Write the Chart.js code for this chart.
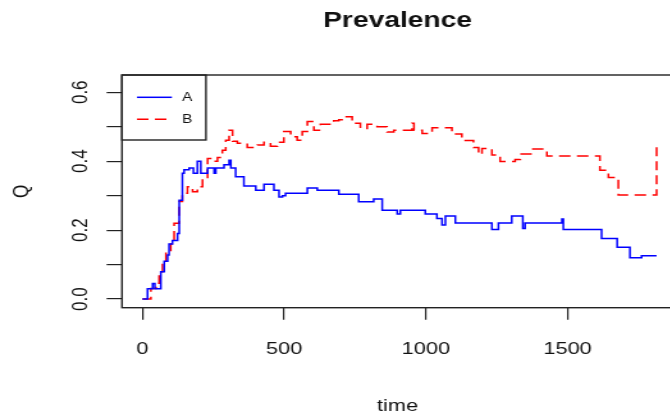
<!DOCTYPE html>
<html>
<head>
<meta charset="utf-8">
<script src="https://cdn.jsdelivr.net/npm/chart.js@4"></script>
<style>
html,body{margin:0;padding:0;background:#fff;overflow:hidden;width:670px;height:417px;}
/* the reference is stretched sideways, so the canvas is drawn narrow and widened */
#wrap{width:530px;height:417px;transform:scaleX(1.28);transform-origin:0 0;}
</style>
</head>
<body>
<div id="wrap"><canvas id="chart" width="530" height="417"></canvas></div>
<script>
const seriesNames = ["A", "B"];

// series A (blue, solid) - step points
const aTime = [0, 18, 36, 44, 65, 77, 89, 94, 106, 124, 130, 141, 147, 165, 180, 194, 206, 230, 253, 259, 288, 306, 312, 329, 358, 400, 429, 464, 482, 494, 505, 582, 617, 693, 763, 816, 846, 899, 910, 998, 1039, 1057, 1069, 1104, 1233, 1256, 1303, 1342, 1350, 1480, 1485, 1620, 1675, 1720, 1761, 1814];
const aQ    = [0, 0.03, 0.045, 0.03, 0.079, 0.11, 0.128, 0.16, 0.17, 0.19, 0.287, 0.365, 0.375, 0.38, 0.365, 0.40, 0.365, 0.38, 0.365, 0.38, 0.39, 0.403, 0.38, 0.355, 0.328, 0.316, 0.333, 0.316, 0.296, 0.30, 0.307, 0.322, 0.316, 0.304, 0.282, 0.29, 0.258, 0.247, 0.258, 0.247, 0.234, 0.215, 0.241, 0.221, 0.202, 0.221, 0.241, 0.205, 0.221, 0.232, 0.202, 0.176, 0.15, 0.12, 0.126, 0.126];

// series B (red, dashed)
const bTime = [0, 30, 48, 59, 71, 83, 100, 112, 130, 141, 159, 177, 194, 212, 230, 247, 265, 282, 294, 306, 318, 335, 370, 406, 429, 452, 476, 499, 523, 546, 564, 582, 605, 628, 675, 693, 711, 740, 769, 793, 828, 863, 887, 951, 958, 987, 1022, 1092, 1127, 1168, 1186, 1198, 1233, 1262, 1315, 1333, 1374, 1427, 1614, 1644, 1679, 1814];
const bQ    = [0, 0.031, 0.046, 0.079, 0.108, 0.133, 0.16, 0.22, 0.283, 0.307, 0.326, 0.311, 0.326, 0.35, 0.408, 0.40, 0.411, 0.432, 0.461, 0.49, 0.458, 0.452, 0.44, 0.447, 0.455, 0.443, 0.455, 0.486, 0.471, 0.461, 0.486, 0.515, 0.49, 0.507, 0.517, 0.52, 0.529, 0.51, 0.495, 0.507, 0.50, 0.485, 0.49, 0.51, 0.49, 0.48, 0.497, 0.479, 0.46, 0.44, 0.42, 0.437, 0.418, 0.399, 0.405, 0.421, 0.435, 0.415, 0.374, 0.353, 0.302, 0.442];

const xTicks  = [0, 500, 1000, 1500];
const xLabels = ["0", "500", "1000", "1500"];
const yTicks  = [0, 0.1, 0.2, 0.3, 0.4, 0.5, 0.6];
const yLabels = ["0.0", "", "0.2", "", "0.4", "", "0.6"];

const FONT = "'Liberation Sans', Arial, sans-serif";
const INK = "#111";

function pts(xs, ys){ return xs.map((x, i) => ({x: x, y: ys[i]})); }

// plot frame + R style legend box
const boxPlugin = {
  id: "box",
  afterDraw(chart){
    const {ctx, chartArea: a} = chart;
    ctx.save();
    ctx.strokeStyle = "#222";
    ctx.lineWidth = 1.4;
    ctx.strokeRect(a.left, a.top, a.right - a.left, a.bottom - a.top);

    const lx = a.left, ly = a.top;
    ctx.strokeRect(lx, ly, 65.6, 65);
    chart.data.datasets.forEach((ds, i) => {
      const y = ly + 22.3 + i * 22;
      ctx.strokeStyle = ds.borderColor;
      ctx.lineWidth = ds.borderWidth;
      ctx.setLineDash(ds.borderDash || []);
      ctx.beginPath();
      ctx.moveTo(lx + 11.7, y);
      ctx.lineTo(lx + 39, y);
      ctx.stroke();
      ctx.setLineDash([]);
      ctx.fillStyle = INK;
      ctx.font = "12px " + FONT;
      ctx.textAlign = "center";
      ctx.textBaseline = "middle";
      ctx.fillText(ds.label, lx + 51, y);
    });
    ctx.restore();
  }
};

new Chart(document.getElementById("chart"), {
  type: "line",
  data: {
    datasets: [
      {label: seriesNames[0], data: pts(aTime, aQ), borderColor: "#0000ff", borderWidth: 1.5, stepped: true, pointRadius: 0, fill: false},
      {label: seriesNames[1], data: pts(bTime, bQ), borderColor: "#ff0000", borderWidth: 1.5, borderDash: [9, 5], stepped: true, pointRadius: 0, fill: false}
    ]
  },
  options: {
    responsive: false,
    animation: false,
    devicePixelRatio: 1,
    layout: {padding: {left: 0, right: 4.2, top: 0, bottom: 0}},
    plugins: {
      legend: {display: false},
      tooltip: {enabled: false},
      title: {
        display: true, text: "Prevalence", fullSize: false, color: INK,
        font: {family: FONT, size: 22, weight: "bold"},
        padding: {top: 7.8, bottom: 40.8}
      }
    },
    scales: {
      x: {
        type: "linear", min: -72, max: 1872, bounds: "data",
        afterBuildTicks: s => { s.ticks = xTicks.map(v => ({value: v})); },
        afterFit: s => { s.height = 109.3; },
        grid: {drawOnChartArea: false, tickLength: 12, color: "#222", lineWidth: 1.2},
        border: {display: false},
        ticks: {
          padding: 19.6, color: INK, autoSkip: false, maxRotation: 0,
          font: {family: FONT, size: 17},
          callback: (v, i) => xLabels[i]
        },
        title: {display: true, text: "time", color: INK, font: {family: FONT, size: 17}, padding: {top: 0, bottom: 0}}
      },
      y: {
        type: "linear", min: -0.025, max: 0.65, bounds: "data",
        afterBuildTicks: s => { s.ticks = yTicks.map(v => ({value: v})); },
        afterFit: s => { s.width = 95.3; },
        grid: {drawOnChartArea: false, tickLength: 12, color: "#222", lineWidth: 1.2},
        border: {display: false},
        ticks: {
          padding: 8.6, color: INK, autoSkip: false, minRotation: 90, maxRotation: 90, crossAlign: "center",
          font: {family: FONT, size: 17},
          callback: (v, i) => yLabels[i]
        },
        title: {display: true, text: "Q", color: INK, font: {family: FONT, size: 17}, padding: {top: 7.4, bottom: 0}}
      }
    }
  },
  plugins: [boxPlugin]
});
</script>
</body>
</html>
